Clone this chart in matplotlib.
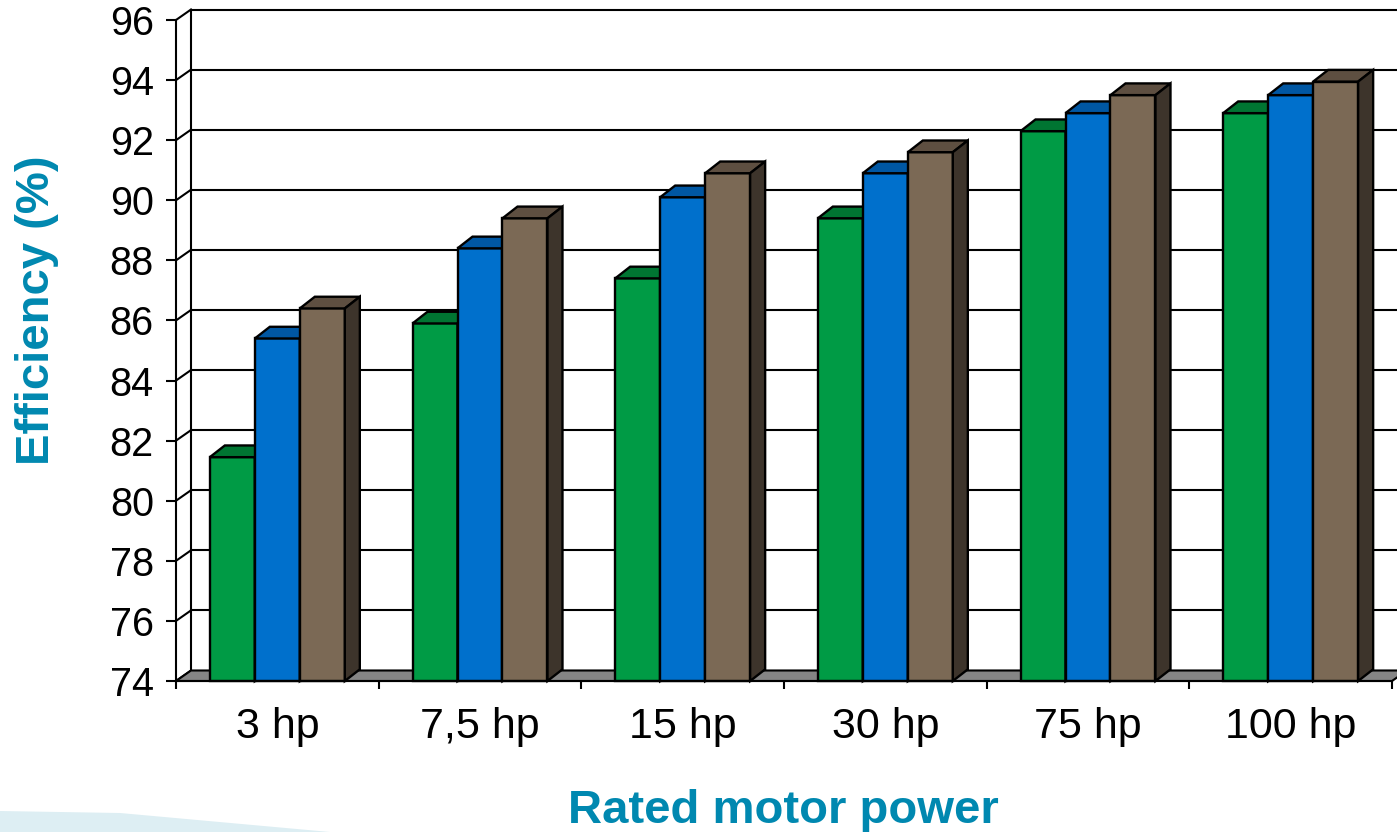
import numpy as np
import matplotlib
matplotlib.use('Agg')
import matplotlib.pyplot as plt
from matplotlib.patches import Polygon

# data
categories = ['3 hp', '7,5 hp', '15 hp', '30 hp', '75 hp', '100 hp']
eff_green = [81.45, 85.9, 87.4, 89.4, 92.3, 92.9]
eff_blue = [85.4, 88.4, 90.1, 90.9, 92.9, 93.5]
eff_brown = [86.4, 89.4, 90.9, 91.6, 93.5, 93.95]
y_ticks = list(range(74, 97, 2))

series = [eff_green, eff_blue, eff_brown]
# front, top, side colours
colours = [('#009B45', '#007532', '#004F22'),
           ('#0070CC', '#0057A3', '#003A70'),
           ('#7B6955', '#5E4F41', '#3D342B')]
title_col = '#0088B0'

plt.rcParams['font.family'] = ['Liberation Sans', 'DejaVu Sans']

W, H = 1397, 832
fig = plt.figure(figsize=(W / 100, H / 100), dpi=100)
ax = fig.add_axes([176 / W, (H - 681) / H, 1216 / W, 661 / H])
ax.set_xlim(-0.5, 5.5)
ax.set_ylim(74, 96)

n = len(categories)
px_x = 1216 / n          # pixels per category
px_y = 661 / 22          # pixels per unit
dxw, dyw = 15 / px_x, 10.5 / px_y   # wall depth
dxb, dyb = 15 / px_x, 11.7 / px_y   # bar depth
lw = 1.5
blw = 1.7

# back wall: diagonal + grid lines
x_back = -0.5 + dxw
ax.plot([x_back, x_back], [74 + dyw, 96 + dyw], color='black', lw=lw, clip_on=False, zorder=1)
for v in y_ticks:
    ax.plot([-0.5, x_back], [v, v + dyw], color='black', lw=lw, clip_on=False, zorder=1)
    ax.plot([x_back, 5.5 + dxw + 0.1], [v + dyw, v + dyw], color='black', lw=lw,
            clip_on=False, zorder=1)

# floor
floor = Polygon([(-0.5, 74), (5.5, 74), (5.5 + dxw, 74 + dyw), (-0.5 + dxw, 74 + dyw)],
                closed=True, facecolor='#858585', edgecolor='black', lw=lw,
                clip_on=False, zorder=1.5)
ax.add_patch(floor)

# bars
w = 0.222
x = np.arange(n)
for j, vals in enumerate(series):
    front, top, side = colours[j]
    x0 = x - 1.5 * w + j * w
    ax.bar(x0, np.array(vals) - 74, bottom=74, width=w, align='edge',
           color=front, edgecolor='black', lw=blw, zorder=3 + j, clip_on=False)
    for xi, v in zip(x0, vals):
        ax.add_patch(Polygon([(xi, v), (xi + w, v), (xi + w + dxb, v + dyb), (xi + dxb, v + dyb)],
                             closed=True, facecolor=top, edgecolor='black', lw=blw,
                             zorder=3.5 + j, clip_on=False))
        ax.add_patch(Polygon([(xi + w, 74), (xi + w, v), (xi + w + dxb, v + dyb),
                              (xi + w + dxb, 74 + dyb)],
                             closed=True, facecolor=side, edgecolor='black', lw=blw,
                             zorder=3.5 + j, clip_on=False))

# axes, ticks
for s in ['top', 'right']:
    ax.spines[s].set_visible(False)
for s in ['left', 'bottom']:
    ax.spines[s].set_linewidth(lw)
    ax.spines[s].set_zorder(10)
ax.patch.set_visible(False)

ax.set_yticks(y_ticks)
ax.set_yticklabels([str(t) for t in y_ticks])
ax.tick_params(axis='y', length=7, width=lw, labelsize=28.5, pad=9)

ax.set_xticks(np.arange(-0.5, 6, 1))
ax.set_xticklabels([])
ax.set_xticks(x, minor=True)
ax.set_xticklabels(categories, minor=True)
ax.tick_params(axis='x', which='major', length=6, width=lw)
ax.tick_params(axis='x', which='minor', length=0, labelsize=31, pad=19)

fig.text(783 / W, (H - 823) / H, 'Rated motor power', ha='center', va='baseline',
         fontsize=34, fontweight='bold', color=title_col)
fig.text(37 / W, (H - 310) / H, 'Efficiency (%)', ha='center', va='center', rotation=90,
         fontsize=34, fontweight='bold', color=title_col)

# light swoosh in the bottom left corner
fig.patches.append(Polygon([(0, 21 / H), (120 / W, 19 / H), (330 / W, 0), (0, 0)],
                           closed=True, transform=fig.transFigure, facecolor='#DDEEF3',
                           edgecolor='none', zorder=0))

fig.savefig('out.png', dpi=100)
